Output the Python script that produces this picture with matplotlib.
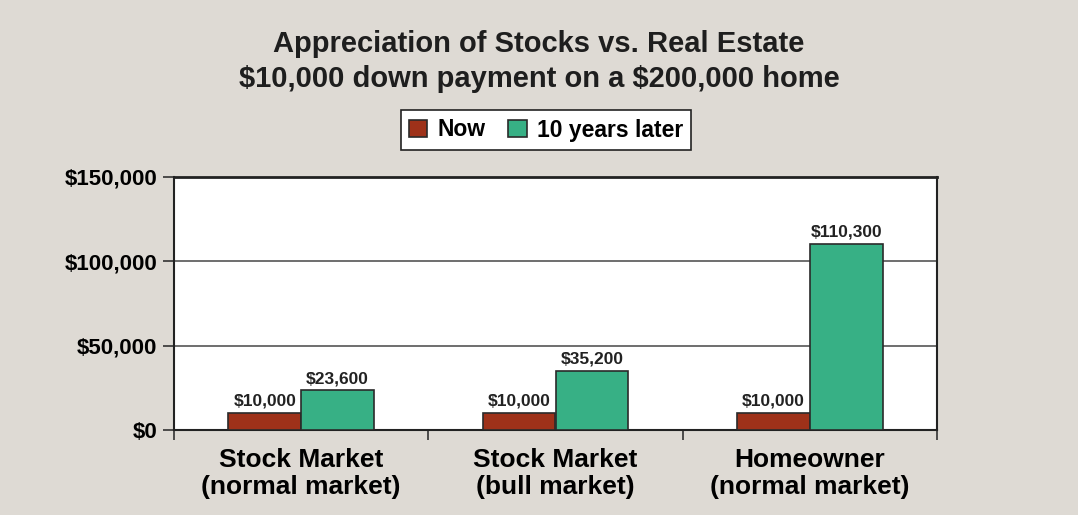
import numpy as np
import matplotlib
matplotlib.use("Agg")
import matplotlib.pyplot as plt
from matplotlib.ticker import FuncFormatter

plt.rcParams['font.family'] = ['Liberation Sans', 'DejaVu Sans']
plt.rcParams['font.weight'] = 'bold'

# Данные
categories = ["Stock Market\n(normal market)", "Stock Market\n(bull market)", "Homeowner\n(normal market)"]
now_vals = [10000, 10000, 10000]
later_vals = [23600, 35200, 110300]
series_names = ["Now", "10 years later"]
yticks = [0, 50000, 100000, 150000]

bg = '#DEDAD4'
red = '#9E3119'
green = '#37B085'
edge = '#2a2a2a'

fig = plt.figure(figsize=(10.78, 5.15), dpi=100, facecolor=bg)
ax = fig.add_axes([174/1078, 1 - 430/515, (937-174)/1078, (430-177)/515])
ax.set_facecolor('white')

x = np.arange(len(categories))
w = 0.286
b1 = ax.bar(x - w/2, now_vals, w, color=red, edgecolor=edge, linewidth=1.2, label=series_names[0], zorder=3)
b2 = ax.bar(x + w/2, later_vals, w, color=green, edgecolor=edge, linewidth=1.2, label=series_names[1], zorder=3)

for bars in (b1, b2):
    for r in bars:
        v = r.get_height()
        ax.annotate(f"\\${v:,.0f}", (r.get_x() + r.get_width()/2, v), xytext=(0, 3),
                    textcoords='offset points', ha='center', va='bottom',
                    fontsize=12.5, fontweight='bold', color='#222222')

ax.set_xlim(-0.5, 2.5)
ax.set_ylim(0, 150000)
ax.set_yticks(yticks)
ax.yaxis.set_major_formatter(FuncFormatter(lambda v, p: f"\\${v:,.0f}"))
ax.tick_params(axis='y', labelsize=16, length=8, width=1.2, color='#333333', pad=4)
ax.grid(axis='y', color='#555555', linewidth=1.2, zorder=0)

# Метки категорий и деления между группами
ax.set_xticks([-0.5, 0.5, 1.5, 2.5])
ax.set_xticklabels([])
ax.tick_params(axis='x', length=7, width=1.2, color='#333333')
ax.set_xticks(x, minor=True)
ax.set_xticklabels(categories, minor=True, fontsize=19, fontweight='bold', linespacing=1.15)
ax.tick_params(axis='x', which='minor', length=0, pad=13)

for s in ax.spines.values():
    s.set_color('#222222')
    s.set_linewidth(1.5)
ax.spines['top'].set_linewidth(2)

fig.text(0.5, 1 - 44/515, "Appreciation of Stocks vs. Real Estate", ha='center', va='center',
         fontsize=21, fontweight='bold', color='#1e1e1e')
fig.text(0.5, 1 - 79/515, "\\$10,000 down payment on a \\$200,000 home", ha='center', va='center',
         fontsize=21, fontweight='bold', color='#1e1e1e')

leg = fig.legend(handles=[b1, b2], labels=series_names, loc='center',
                 bbox_to_anchor=(546/1078, 1 - 130/515), ncol=2, frameon=True,
                 fancybox=False, fontsize=16.5, handlelength=0.8, handleheight=0.8,
                 handletextpad=0.45, columnspacing=1.0, borderpad=0.35, borderaxespad=0)
leg.get_frame().set_edgecolor('#222222')
leg.get_frame().set_linewidth(1.2)
leg.get_frame().set_facecolor('white')
leg.get_frame().set_alpha(1)

fig.savefig("out.png", dpi=100, facecolor=bg)
